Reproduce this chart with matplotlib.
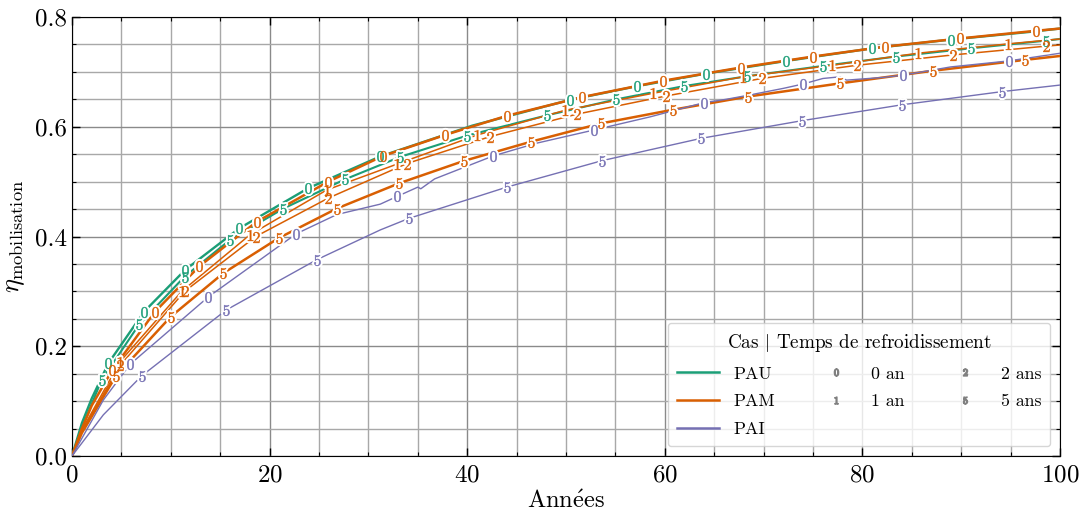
import matplotlib
matplotlib.use('Agg')
import matplotlib.pyplot as plt
from matplotlib.lines import Line2D
from matplotlib.ticker import MultipleLocator

plt.rcParams['font.family'] = ['cmr10', 'DejaVu Serif']
plt.rcParams['mathtext.fontset'] = 'cm'
plt.rcParams['axes.formatter.use_mathtext'] = True

# ---------------- data ----------------
pau0_t = [0, 1, 2, 3.68, 7.29, 11.44, 16.94, 23.9, 31.2, 40.5, 50.4, 57.2, 64.2, 72.3, 81.0, 89.0, 97.0, 100]
pau0_y = [0, 0.06, 0.105, 0.169, 0.263, 0.339, 0.415, 0.488, 0.546, 0.602, 0.649, 0.674, 0.697, 0.72, 0.743, 0.759, 0.773, 0.779]
pau0_lab = [3.68, 7.29, 11.44, 16.94, 23.9, 31.2, 50.4, 57.2, 64.2, 72.3, 81.0, 89.0]

pau5_t = [0, 1, 3.0, 6.8, 11.4, 16.0, 21.4, 27.6, 33.2, 40.0, 48.1, 55.1, 61.9, 68.3, 76.05, 83.4, 90.96, 98.6, 100]
pau5_y = [0, 0.052, 0.1385, 0.24, 0.327, 0.394, 0.451, 0.504, 0.545, 0.584, 0.621, 0.65, 0.674, 0.692, 0.711, 0.728, 0.743, 0.757, 0.76]
pau5_lab = [3.0, 6.8, 11.4, 16.0, 21.4, 27.6, 33.2, 40.0, 48.1, 55.1, 61.9, 68.3, 76.05, 83.4, 90.96, 98.6]

pam0_t = [0, 1, 2, 4.08, 8.4, 12.9, 18.7, 25.94, 31.5, 37.75, 44.0, 51.6, 59.85, 67.7, 75.0, 82.3, 89.9, 97.6, 100]
pam0_y = [0, 0.05, 0.092, 0.157, 0.263, 0.346, 0.427, 0.50, 0.547, 0.585, 0.62, 0.654, 0.684, 0.708, 0.728, 0.746, 0.761, 0.775, 0.779]
pam0_lab = [4.08, 8.4, 12.9, 18.7, 25.94, 31.5, 37.75, 44.0, 51.6, 59.85, 67.7, 75.0, 82.3, 89.9, 97.6]

pam1_t = [0, 1, 4.86, 11.1, 18.0, 25.8, 32.9, 41.0, 49.9, 58.8, 67.9, 76.9, 85.6, 94.7, 100]
pam1_y = [0, 0.047, 0.172, 0.30, 0.403, 0.485, 0.532, 0.585, 0.63, 0.661, 0.691, 0.712, 0.734, 0.751, 0.76]
pam1_lab = [4.86, 11.1, 18.0, 25.8, 32.9, 41.0, 49.9, 58.8, 67.9, 76.9, 85.6, 94.7]

pam2_t = [0, 1, 4.86, 11.4, 18.6, 25.94, 33.9, 42.3, 51.1, 60.1, 69.8, 79.4, 89.2, 98.6, 100]
pam2_y = [0, 0.045, 0.165, 0.30, 0.40, 0.47, 0.533, 0.582, 0.623, 0.656, 0.688, 0.712, 0.731, 0.747, 0.749]
pam2_lab = [4.86, 11.4, 18.6, 25.94, 33.9, 42.3, 51.1, 60.1, 69.8, 79.4, 89.2, 98.6]

pam5_t = [0, 1, 4.45, 10.0, 15.3, 20.9, 26.8, 33.1, 39.7, 46.5, 53.5, 60.8, 68.4, 77.7, 87.1, 96.5, 100]
pam5_y = [0, 0.042, 0.146, 0.254, 0.333, 0.397, 0.451, 0.497, 0.538, 0.573, 0.606, 0.631, 0.655, 0.679, 0.702, 0.722, 0.729]
pam5_lab = [4.45, 10.0, 15.3, 20.9, 26.8, 33.1, 39.7, 46.5, 53.5, 60.8, 68.4, 77.7, 87.1, 96.5]

pai0_t = [0, 3.17, 5.87, 13.8, 22.7, 26.8, 31.2, 32.9, 35.0, 35.3, 36.7, 42.65, 47.0, 52.8, 58.5, 63.96,
          65.5, 66.5, 68.6, 72.0, 74.0, 76.0, 77.7, 78.4, 82.1, 84.1, 88.9, 94.8, 100]
pai0_y = [0, 0.102, 0.167, 0.29, 0.405, 0.44, 0.459, 0.473, 0.49, 0.487, 0.505, 0.547, 0.57, 0.594, 0.618, 0.644,
          0.648, 0.651, 0.658, 0.67, 0.678, 0.688, 0.691, 0.685, 0.69, 0.694, 0.709, 0.72, 0.734]
pai0_lab = [5.87, 13.8, 22.7, 32.9, 42.65, 52.8, 63.96, 74.0, 84.1, 94.8]

pai5_t = [0, 3.17, 7.05, 15.6, 24.8, 31.2, 34.1, 44.0, 53.6, 58.5, 63.7, 73.85, 83.98, 94.1, 100]
pai5_y = [0, 0.075, 0.146, 0.266, 0.358, 0.412, 0.433, 0.49, 0.538, 0.558, 0.579, 0.611, 0.64, 0.664, 0.676]
pai5_lab = [7.05, 15.6, 24.8, 34.1, 44.0, 53.6, 63.7, 73.85, 83.98, 94.1]

cases = ['PAU', 'PAM', 'PAI']
case_colors = ['#1b9e77', '#d95f02', '#7570b3']
cool_names = ['0 an', '1 an', '2 ans', '5 ans']
cool_codes = ['0', '1', '2', '5']
# -----------------------------------------------------------------

curves = [
    (pau0_t, pau0_y, pau0_lab, 0, '0', 1.7),
    (pau5_t, pau5_y, pau5_lab, 0, '5', 1.5),
    (pam0_t, pam0_y, pam0_lab, 1, '0', 1.8),
    (pam1_t, pam1_y, pam1_lab, 1, '1', 1.1),
    (pam2_t, pam2_y, pam2_lab, 1, '2', 1.1),
    (pam5_t, pam5_y, pam5_lab, 1, '5', 1.8),
    (pai0_t, pai0_y, pai0_lab, 2, '0', 1.0),
    (pai5_t, pai5_y, pai5_lab, 2, '5', 1.0),
]

fig = plt.figure(figsize=(10.83, 5.16), dpi=100)
ax = fig.add_axes([0.0665, 0.1163, 0.9123, 0.8507])

for t, y, lab, ci, code, lw in curves:
    col = case_colors[ci]
    idx = [t.index(v) for v in lab]
    ax.plot(t, y, color=col, lw=lw, zorder=3)
    mk = r'$\mathbf{%s}$' % code
    ax.plot(t, y, ls='none', marker=mk, markevery=idx, ms=7.8,
            mfc='white', mec='white', mew=3.2, zorder=4)
    ax.plot(t, y, ls='none', marker=mk, markevery=idx, ms=7.8,
            mfc=col, mec=col, mew=0.3, zorder=5)

ax.set_xlim(0, 100)
ax.set_ylim(0, 0.8)
ax.xaxis.set_major_locator(MultipleLocator(20))
ax.xaxis.set_minor_locator(MultipleLocator(5))
ax.yaxis.set_major_locator(MultipleLocator(0.2))
ax.yaxis.set_minor_locator(MultipleLocator(0.05))
ax.yaxis.set_major_formatter(plt.FuncFormatter(lambda v, p: '%.1f' % v))
ax.grid(which='major', color='#8a8a8a', lw=1.0, zorder=0)
ax.grid(which='minor', color='#a8a8a8', lw=1.0, zorder=0)
ax.set_axisbelow(True)
ax.tick_params(which='both', direction='in', top=True, right=True, labelsize=18)
ax.tick_params(which='major', length=6, width=1)
ax.tick_params(which='minor', length=3, width=0.8)
ax.tick_params(axis='x', pad=6)
ax.set_xlabel(r'Ann$\mathrm{\acute{e}}$es', fontsize=17.6, labelpad=3)
ax.set_ylabel(r'$\eta_{\mathrm{mobilisation}}$', fontsize=19, labelpad=6)

handles = [Line2D([], [], color=c, lw=1.8) for c in case_colors]
labels = list(cases)
for code, name in zip(cool_codes, cool_names):
    handles.append(Line2D([], [], ls='none', marker=r'$\mathbf{%s}$' % code, color='gray', ms=5))
    labels.append(name)
leg = ax.legend(handles, labels, ncol=3, loc='lower right', fontsize=12.8,
                title=r'Cas $|$ Temps de refroidissement', title_fontsize=13.8,
                framealpha=0.8, handlelength=2.4, columnspacing=2.2,
                borderaxespad=0.55, labelspacing=0.7, borderpad=0.5)
leg.get_frame().set_edgecolor('#cccccc')

fig.savefig('out.png', dpi=100)
